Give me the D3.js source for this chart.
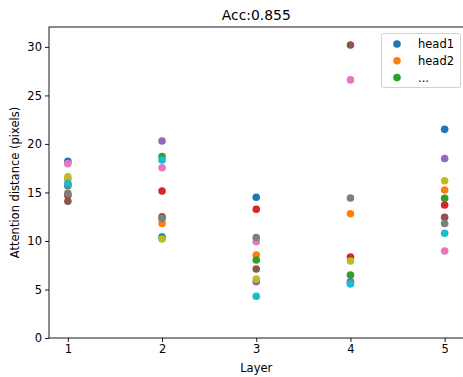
<!DOCTYPE html>
<html><head><meta charset="utf-8">
<script src="https://cdn.jsdelivr.net/npm/d3@7"></script>
<style>body{margin:0;background:#fff}svg{display:block}text{font-family:"DejaVu Sans",sans-serif;fill:#000}</style>
</head><body><svg id="c" width="463" height="377"></svg>
<script>
const layers = [1, 2, 3, 4, 5];
const heads = ["head1","head2","head3","head4","head5","head6","head7","head8","head9","head10"];
const colors = ["#1f77b4","#ff7f0e","#2ca02c","#d62728","#9467bd","#8c564b","#e377c2","#7f7f7f","#bcbd22","#17becf"];
const head1  = [18.2, 10.4, 14.5, 5.8, 21.5];
const head2  = [16.4, 11.8, 8.56, 12.8, 15.25];
const head3  = [15.7, 18.7, 8.04, 6.5, 14.4];
const head4  = [14.7, 15.15, 13.27, 8.35, 13.7];
const head5  = [15.8, 20.3, 5.8, 5.7, 18.5];
const head6  = [14.1, 12.5, 7.11, 30.2, 12.44];
const head7  = [17.97, 17.55, 9.93, 26.6, 8.97];
const head8  = [14.9, 12.3, 10.35, 14.43, 11.8];
const head9  = [16.6, 10.2, 6.08, 7.94, 16.2];
const head10 = [15.95, 18.35, 4.3, 5.57, 10.8];
const series = [head1, head2, head3, head4, head5, head6, head7, head8, head9, head10];
const yTicks = [0, 5, 10, 15, 20, 25, 30];
const legendLabels = ["head1", "head2", "..."];
const title = "Acc:0.855";

const svg = d3.select("#c");
const L = 49, R = 463.5, T = 27, B = 338;
const x = d3.scaleLinear().domain([0.8, 5.2]).range([L, R]);
const y = d3.scaleLinear().domain([0, 32.05]).range([B, T]);

// points
series.forEach((vals, i) => {
  svg.append("g").selectAll("circle").data(vals).join("circle")
    .attr("cx", (d, j) => x(layers[j])).attr("cy", d => y(d))
    .attr("r", 3.8).attr("fill", colors[i]);
});

// axes
const fs = "11.5px";
const gx = svg.append("g").attr("transform", `translate(0,${B})`)
  .call(d3.axisBottom(x).tickValues(layers).tickFormat(d3.format("d")).tickSizeOuter(0).tickSize(4).tickPadding(3));
const gy = svg.append("g").attr("transform", `translate(${L},0)`)
  .call(d3.axisLeft(y).tickValues(yTicks).tickSizeOuter(0).tickSize(4).tickPadding(3));
[gx, gy].forEach(g => {
  g.selectAll("text").style("font-size", fs).style("font-family", '"DejaVu Sans",sans-serif').attr("fill", "#000");
  g.selectAll("line").attr("stroke", "#000").attr("stroke-width", 0.9);
  g.select(".domain").remove();
});
// spines (right spine falls just outside the canvas)
svg.append("rect").attr("x", L).attr("y", T).attr("width", R - L + 1.5).attr("height", B - T)
  .attr("fill", "none").attr("stroke", "#000").attr("stroke-width", 0.9);

// labels
svg.append("text").attr("x", (L + R) / 2).attr("y", 20).attr("text-anchor", "middle")
  .style("font-size", "13.9px").text(title);
svg.append("text").attr("x", (L + R) / 2).attr("y", 372).attr("text-anchor", "middle")
  .style("font-size", fs).text("Layer");
svg.append("text").attr("transform", `translate(19,${(T + B) / 2}) rotate(-90)`).attr("text-anchor", "middle")
  .style("font-size", fs).text("Attention distance (pixels)");

// legend
const lg = svg.append("g");
lg.append("rect").attr("x", 381.5).attr("y", 33.5).attr("width", 79).attr("height", 54).attr("rx", 2)
  .attr("fill", "#fff").attr("fill-opacity", 0.8).attr("stroke", "#ccc").attr("stroke-width", 0.9);
legendLabels.forEach((t, i) => {
  const cy = 44 + i * 16.8;
  lg.append("circle").attr("cx", 397).attr("cy", cy).attr("r", 3.8).attr("fill", colors[i]);
  lg.append("text").attr("x", 418).attr("y", cy + 4).style("font-size", fs).text(t);
});
</script></body></html>
